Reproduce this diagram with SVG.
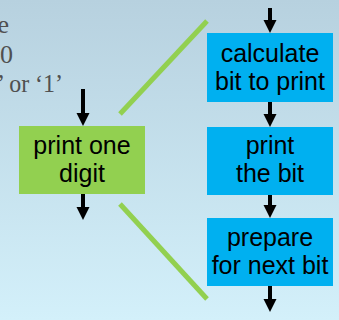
<svg xmlns="http://www.w3.org/2000/svg" width="339" height="320" viewBox="0 0 339 320">
<defs>
<linearGradient id="bg" x1="0" y1="0" x2="0" y2="1">
<stop offset="0" stop-color="#b7d1df"/>
<stop offset="1" stop-color="#d3f0fa"/>
</linearGradient>
<style>
.bg-t{font-family:"Liberation Serif","DejaVu Serif",serif;font-size:26px;fill:#505050;text-anchor:end}
.lbl{font-family:"Liberation Sans",Arial,sans-serif;font-size:25px;fill:#000;text-anchor:middle}
.blue{fill:#00b0f0}
.green{fill:#92d050}
.arr{stroke:#000;stroke-width:4;fill:none}
.gl{stroke:#92d050;stroke-width:5;fill:none}
</style>
</defs>
<rect width="339" height="320" fill="url(#bg)"/>
<text class="bg-t" x="9" y="33">e</text>
<text class="bg-t" x="13" y="63">0</text>
<text class="bg-t" x="63" y="92" textLength="66" lengthAdjust="spacingAndGlyphs">’ or ‘1’</text>
<g id="connectors">
<path class="gl" d="M120,114 L207,21"/>
<path class="gl" d="M120,204 L207,299"/>
<path d="M83,89 V113" class="arr"/><path d="M76.5,113 H89.5 L83,126 Z"/>
<path d="M83,194 V207" class="arr"/><path d="M76.5,207 H89.5 L83,220 Z"/>
<path d="M270,8 V20" class="arr"/><path d="M263.5,20 H276.5 L270,33 Z"/>
<path d="M270,102 V114" class="arr"/><path d="M263.5,114 H276.5 L270,127 Z"/>
<path d="M270,195 V205" class="arr"/><path d="M263.5,205 H276.5 L270,218 Z"/>
<path d="M270,286 V299" class="arr"/><path d="M263.5,299 H276.5 L270,312 Z"/>
</g>
<g id="print-one-digit">
<rect class="green" x="19" y="126" width="126" height="68"/>
<text class="lbl" x="82" y="154">print one</text>
<text class="lbl" x="82" y="182">digit</text>
</g>
<g id="calculate-bit">
<rect class="blue" x="207" y="33" width="126" height="69"/>
<text class="lbl" x="270" y="62">calculate</text>
<text class="lbl" x="270" y="90">bit to print</text>
</g>
<g id="print-the-bit">
<rect class="blue" x="207" y="127" width="126" height="68"/>
<text class="lbl" x="270" y="154">print</text>
<text class="lbl" x="270" y="182">the bit</text>
</g>
<g id="prepare-next">
<rect class="blue" x="207" y="218" width="126" height="68"/>
<text class="lbl" x="270" y="246">prepare</text>
<text class="lbl" x="270" y="274">for next bit</text>
</g>
</svg>
